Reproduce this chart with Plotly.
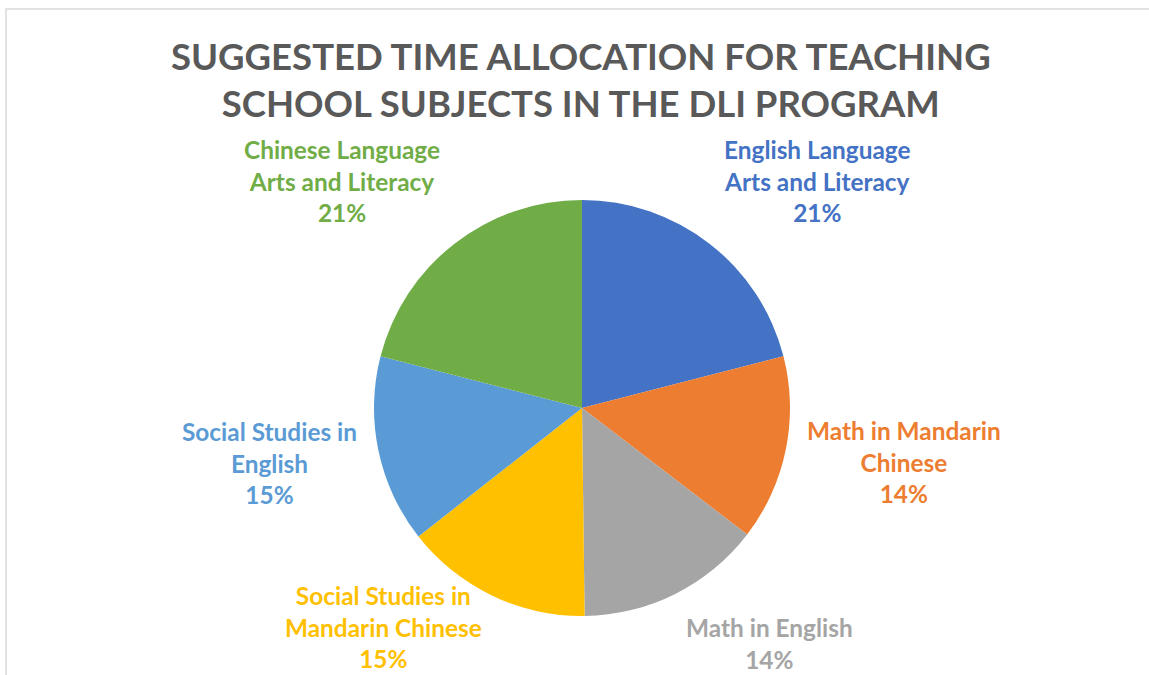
import math
import plotly.graph_objects as go

# ---- data ----
subjects = [
    "English Language Arts and Literacy",
    "Math in Mandarin Chinese",
    "Math in English",
    "Social Studies in Mandarin Chinese",
    "Social Studies in English",
    "Chinese Language Arts and Literacy",
]
label_lines = [
    ["English Language", "Arts and Literacy"],
    ["Math in Mandarin", "Chinese"],
    ["Math in English"],
    ["Social Studies in", "Mandarin Chinese"],
    ["Social Studies in", "English"],
    ["Chinese Language", "Arts and Literacy"],
]
shares = [21.0, 14.4, 14.4, 14.6, 14.6, 21.0]
colors = ["#4472C4", "#ED7D31", "#A5A5A5", "#FFC000", "#5B9BD5", "#70AD47"]
title_text = "SUGGESTED TIME ALLOCATION FOR TEACHING<br>SCHOOL SUBJECTS IN THE DLI PROGRAM"

W, H = 1149, 675
FONT = "Lato"
LFS = 24.4  # label font size

# pie geometry (pixels)
cx, cy, R = 582, 408, 208
dom_x = [(cx - R) / W, (cx + R) / W]
dom_y = [(H - cy - R) / H, (H - cy + R) / H]

fig = go.Figure(go.Pie(
    labels=subjects,
    values=shares,
    sort=False,
    direction="clockwise",
    rotation=0,
    marker=dict(colors=colors, line=dict(width=0)),
    textinfo="none",
    hoverinfo="label+percent",
    domain=dict(x=dom_x, y=dom_y),
    showlegend=False,
))

annotations = []
total = sum(shares)
cum = 0.0
for lines, v, col in zip(label_lines, shares, colors):
    mid = (cum + v / 2) / total * 2 * math.pi
    cum += v
    pct = round(v / total * 100)
    s, c = math.sin(mid), math.cos(mid)
    r = R + 20
    px = cx + r * s
    py = cy - r * c
    xa = "left" if s > 0.3 else ("right" if s < -0.3 else "center")
    n = len(lines) + 1
    bh = n * LFS * 1.3
    if c > 0.3:
        top = py - bh
    elif c < -0.3:
        top = py
    else:
        top = py - bh / 2 + 8
    top = min(top, H - 1 - bh)
    txt = "<br>".join(lines + [f"{pct}%"])
    annotations.append(dict(
        x=px / W, y=1 - top / H, xref="paper", yref="paper",
        xanchor=xa, yanchor="top", showarrow=False, align="center",
        text=txt, font=dict(family=FONT, size=LFS, color=col, weight="bold"),
    ))

annotations.append(dict(
    x=581 / W, y=1 - 32 / H, xref="paper", yref="paper",
    xanchor="center", yanchor="top", showarrow=False, align="center",
    text=title_text, font=dict(family=FONT, size=36.5, color="#595959", weight="bold"),
))

fig.update_layout(
    width=W, height=H,
    margin=dict(l=0, r=0, t=0, b=0),
    paper_bgcolor="white",
    plot_bgcolor="white",
    annotations=annotations,
    shapes=[dict(type="rect", xref="paper", yref="paper",
                 x0=6 / W, x1=1 + 10 / W, y0=-10 / H, y1=1 - 9 / H,
                 line=dict(color="#D9D9D9", width=1.5), fillcolor="rgba(0,0,0,0)")],
)

fig.write_html("out.html", config={"displayModeBar": False},
               post_script="document.body.style.margin='0';")
